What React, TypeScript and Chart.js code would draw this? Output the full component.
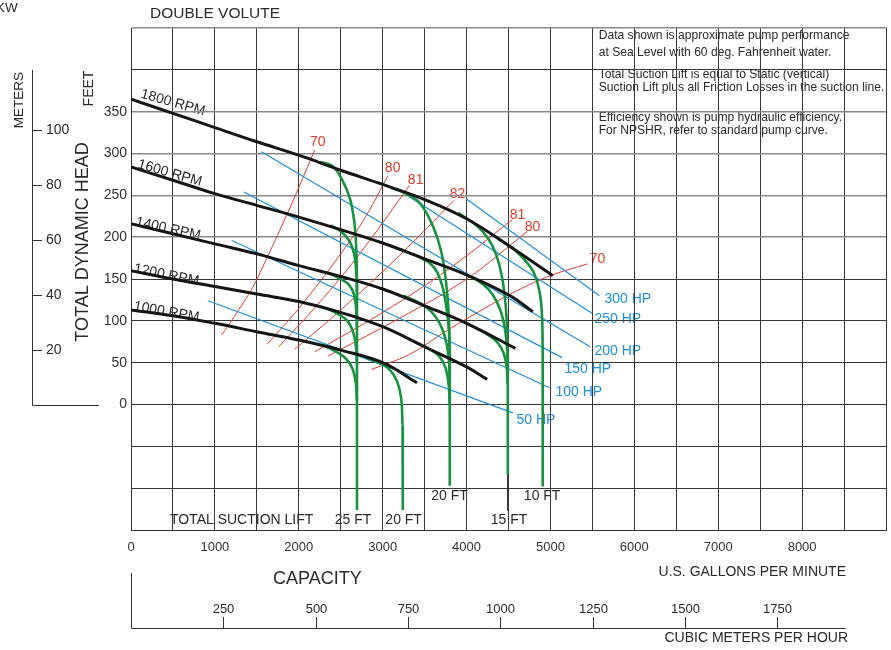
import React, { useEffect, useRef } from 'react';
import { Chart, registerables } from 'chart.js';

Chart.register(...registerables);

type Pt = [number, number];

// ---------- axes ----------
const GPM_TICK_LABELS = [0, 1000, 2000, 3000, 4000, 5000, 6000, 7000, 8000];
const FEET_TICK_LABELS = [0, 50, 100, 150, 200, 250, 300, 350];
const METER_TICK_LABELS = [20, 40, 60, 80, 100];
const M3H_TICK_LABELS = [250, 500, 750, 1000, 1250, 1500, 1750];
const M3H_AXIS_END = 1935;
const METER_AXIS_TOP_FT = 400;
const FT_PER_M = 3.28084;
const GPM_PER_M3H = 4.402868;

// ---------- head curves (GPM, feet) ----------
const HEAD_1800: Pt[] = [[0, 365], [500, 348], [1000, 331], [1500, 314], [2000, 298], [2500, 280], [3000, 263], [3500, 245], [4000, 222], [4500, 190], [5028, 154]];
const HEAD_1600: Pt[] = [[0, 284], [500, 268], [1000, 252], [1500, 238], [2000, 224], [2500, 209], [3000, 193], [3500, 174], [4000, 155], [4500, 131], [4790, 111]];
const HEAD_1400: Pt[] = [[0, 216], [500, 204], [1000, 192], [1500, 180], [2000, 166], [2500, 153], [3000, 138], [3500, 118], [4000, 97], [4583, 67]];
const HEAD_1200: Pt[] = [[0, 160], [500, 150], [1000, 141], [1500, 132], [2000, 123], [2500, 110], [3000, 93], [3500, 69], [4000, 45], [4246, 30]];
const HEAD_1000: Pt[] = [[0, 113], [500, 106], [1000, 97], [1500, 87], [2000, 77], [2500, 65], [3000, 50], [3409, 26]];

// ---------- suction lift curves (GPM, feet) ----------
const LIFT25_1800: Pt[] = [[2250, 290], [2400, 285], [2520, 268], [2610, 246], [2662, 218], [2686, 185], [2693, 150]];
const LIFT25_1600: Pt[] = [[2380, 214], [2500, 207], [2600, 196], [2660, 180], [2686, 158], [2693, 135]];
const LIFT25_1400: Pt[] = [[2380, 156], [2500, 150], [2600, 143], [2660, 131], [2686, 112], [2693, 92]];
const LIFT25_1200: Pt[] = [[2350, 114], [2470, 108], [2580, 100], [2650, 86], [2683, 68], [2693, 48]];
const LIFT25_1000: Pt[] = [[2330, 69], [2450, 63], [2560, 55], [2640, 43], [2680, 26], [2693, 5]];
const LIFT25_DROP: Pt[] = [[2693, 150], [2694, -126]];

const LIFT20A_1000: Pt[] = [[2800, 56], [2950, 50], [3080, 42], [3170, 28], [3220, 8], [3237, -25]];
const LIFT20A_DROP: Pt[] = [[3237, -25], [3240, -126]];

const LIFT20B_1800: Pt[] = [[3100, 259], [3300, 251], [3450, 240], [3600, 213], [3700, 182], [3760, 142], [3790, 102], [3799, 60]];
const LIFT20B_1600: Pt[] = [[3200, 186], [3440, 176], [3560, 169], [3650, 158], [3720, 138], [3765, 112], [3792, 85], [3799, 55]];
const LIFT20B_1400: Pt[] = [[3250, 130], [3450, 121], [3580, 111], [3680, 97], [3745, 80], [3785, 58], [3799, 30]];
const LIFT20B_1200: Pt[] = [[3400, 74], [3560, 66], [3670, 58], [3745, 45], [3785, 25], [3799, 0]];
const LIFT20B_DROP: Pt[] = [[3799, 60], [3800, -97]];

const LIFT15_1800: Pt[] = [[3900, 229], [4120, 214], [4260, 198], [4350, 180], [4420, 154], [4465, 120], [4485, 85], [4491, 50]];
const LIFT15_1600: Pt[] = [[3950, 157], [4120, 149], [4260, 138], [4360, 123], [4430, 104], [4472, 80], [4489, 55], [4491, 30]];
const LIFT15_1400: Pt[] = [[4100, 92], [4260, 83], [4370, 74], [4440, 62], [4478, 45], [4490, 25]];
const LIFT15_DROP: Pt[] = [[4491, 50], [4492, -84]];
const LIFT15_LEADER: Pt[] = [[4492, -84], [4492, -127]];

const LIFT10_1800: Pt[] = [[4380, 198], [4560, 186], [4700, 172], [4800, 158], [4870, 135], [4900, 105], [4907, 70]];
const LIFT10_DROP: Pt[] = [[4907, 70], [4908, -98]];

// ---------- horsepower lines ----------
const HP300: Pt[] = [[3996, 246], [5583, 130]];
const HP250: Pt[] = [[3321, 248], [5496, 109]];
const HP200: Pt[] = [[1556, 302], [5473, 69]];
const HP150: Pt[] = [[1345, 254], [5139, 56]];
const HP100: Pt[] = [[1202, 196], [4988, 20]];
const HP50: Pt[] = [[917, 124], [4551, -10]];

// ---------- efficiency curves ----------
const EFF70_L: Pt[] = [[1080, 83], [1250, 108], [1450, 140], [1620, 175], [1790, 212], [1960, 250], [2100, 283], [2190, 304]];
const EFF80_L: Pt[] = [[1623, 72], [2000, 115], [2500, 180], [2800, 225], [3060, 273]];
const EFF81_L: Pt[] = [[1762, 69], [2300, 128], [2800, 190], [3321, 262]];
const EFF82: Pt[] = [[1952, 66], [2500, 113], [3200, 178], [3850, 244]];
const EFF81_R: Pt[] = [[2190, 63], [3000, 110], [3800, 163], [4548, 221]];
const EFF80_R: Pt[] = [[2349, 58], [3200, 103], [4000, 150], [4726, 207]];
const EFF70_R: Pt[] = [[2869, 42], [3320, 60], [3760, 88], [4200, 114], [4600, 136], [5000, 154], [5440, 168]];

// ---------- labels ----------
const RPM_LABELS = ['1800 RPM', '1600 RPM', '1400 RPM', '1200 RPM', '1000 RPM'];
const RPM_LABEL_AT: Pt[] = [[107, 367], [71, 283], [48, 214], [27, 158], [27, 113]];
const RPM_LABEL_ANGLE = [15.7, 16, 12.4, 11.3, 10];
const EFF_LABELS = ['70', '80', '81', '82', '81', '80', '70'];
const EFF_LABEL_AT: Pt[] = [[2226, 313], [3119, 282], [3393, 268], [3893, 252], [4607, 226], [4786, 212], [5560, 174]];
const HP_LABELS = ['300 HP', '250 HP', '200 HP', '150 HP', '100 HP', '50 HP'];
const HP_LABEL_AT: Pt[] = [[5643, 126], [5524, 102], [5524, 64], [5167, 42], [5060, 15], [4595, -19]];
const SUCTION_LABELS = ['TOTAL SUCTION LIFT', '25 FT', '20 FT', '20 FT', '15 FT', '10 FT'];
const SUCTION_LABEL_AT: Pt[] = [[464, -138], [2646, -138], [3250, -138], [3798, -110], [4506, -138], [4901, -110]];
const NOTES = [
  'Data shown is approximate pump performance',
  'at Sea Level with 60 deg. Fahrenheit water.',
  'Total Suction Lift is equal to Static (vertical)',
  'Suction Lift plus all Friction Losses in the suction line.',
  'Efficiency shown is pump hydraulic efficiency.',
  'For NPSHR, refer to standard pump curve.',
];
const NOTE_AT: Pt[] = [[5575, 441], [5575, 421], [5575, 394], [5575, 379], [5575, 343], [5575, 327]];

const FAMILY = '"Liberation Sans", Arial, Helvetica, sans-serif';
const f = (size: number) => `${size}px ${FAMILY}`;

const BLACK = '#151515';
const GREEN = '#17923f';
const BLUE = '#1d8fe0';
const RED = '#e63a2b';
const TEXT = '#2a2a2a';

function ds(data: Pt[], color: string, width: number, tension: number) {
  return {
    data: data.map(([x, y]) => ({ x, y })),
    borderColor: color,
    borderWidth: width,
    tension,
    pointRadius: 0,
    fill: false,
    borderCapStyle: 'butt',
  };
}

const textPlugin = {
  id: 'pumpText',
  beforeDraw(chart: any) {
    const { ctx } = chart;
    const x = chart.scales.x;
    const y = chart.scales.y;
    const px = (p: Pt) => [x.getPixelForValue(p[0]), y.getPixelForValue(p[1])];
    ctx.save();
    ctx.fillStyle = '#ffffff';
    ctx.fillRect(0, 0, chart.width, chart.height);

    // notes
    ctx.fillStyle = TEXT;
    ctx.font = f(12.1);
    ctx.textAlign = 'left';
    ctx.textBaseline = 'middle';
    NOTES.forEach((t, i) => {
      const [a, b] = px(NOTE_AT[i]);
      ctx.fillText(t, a, b);
    });

    // suction lift labels
    ctx.font = f(14);
    SUCTION_LABELS.forEach((t, i) => {
      const [a, b] = px(SUCTION_LABEL_AT[i]);
      ctx.textAlign = i === 0 ? 'left' : 'center';
      ctx.fillText(t, a, b);
    });

    // RPM labels
    ctx.textAlign = 'left';
    ctx.textBaseline = 'alphabetic';
    ctx.font = f(14);
    RPM_LABELS.forEach((t, i) => {
      const [a, b] = px(RPM_LABEL_AT[i]);
      ctx.save();
      ctx.translate(a, b);
      ctx.rotate((RPM_LABEL_ANGLE[i] * Math.PI) / 180);
      ctx.fillText(t, 0, 0);
      ctx.restore();
    });

    // efficiency labels
    ctx.fillStyle = RED;
    ctx.textAlign = 'center';
    ctx.textBaseline = 'middle';
    ctx.font = f(14);
    EFF_LABELS.forEach((t, i) => {
      const [a, b] = px(EFF_LABEL_AT[i]);
      ctx.fillText(t, a, b);
    });

    // HP labels
    ctx.fillStyle = BLUE;
    ctx.textAlign = 'left';
    HP_LABELS.forEach((t, i) => {
      const [a, b] = px(HP_LABEL_AT[i]);
      ctx.fillText(t, a, b);
    });
    ctx.restore();
  },
  afterDraw(chart: any) {
    const { ctx } = chart;
    const x = chart.scales.x;
    const y = chart.scales.y;
    ctx.save();
    ctx.fillStyle = TEXT;
    ctx.strokeStyle = '#333';
    ctx.lineWidth = 1;

    // titles
    ctx.textBaseline = 'middle';
    ctx.textAlign = 'left';
    ctx.font = f(13.5);
    ctx.fillText('KW', -4, 8);
    ctx.font = f(15.5);
    ctx.fillText('DOUBLE VOLUTE', 150, 14);

    const vText = (t: string, cx: number, cy: number, size: number) => {
      ctx.save();
      ctx.translate(cx, cy);
      ctx.rotate(-Math.PI / 2);
      ctx.font = f(size);
      ctx.textAlign = 'center';
      ctx.textBaseline = 'middle';
      ctx.fillText(t, 0, 0);
      ctx.restore();
    };
    vText('METERS', 19, 100, 13.5);
    vText('FEET', 89.5, 88.5, 14);
    vText('TOTAL DYNAMIC HEAD', 83, 242, 18);

    // meters axis
    const y0 = Math.round(y.getPixelForValue(0)) + 0.5;
    const yTop = y.getPixelForValue(METER_AXIS_TOP_FT);
    ctx.beginPath();
    ctx.moveTo(32.5, yTop);
    ctx.lineTo(32.5, y0);
    ctx.lineTo(99, y0);
    ctx.stroke();
    ctx.font = f(14);
    ctx.textAlign = 'left';
    METER_TICK_LABELS.forEach((m) => {
      const py = Math.round(y.getPixelForValue(m * FT_PER_M)) + 0.5;
      ctx.beginPath();
      ctx.moveTo(32.5, py);
      ctx.lineTo(42, py);
      ctx.stroke();
      ctx.fillText(String(m), 46, py);
    });

    // capacity texts
    ctx.font = f(18);
    ctx.textAlign = 'left';
    ctx.fillText('CAPACITY', 273, 579);
    ctx.font = f(14);
    ctx.textAlign = 'right';
    ctx.fillText('U.S. GALLONS PER MINUTE', 846, 572);
    ctx.fillText('CUBIC METERS PER HOUR', 848, 638);

    // cubic meters per hour axis
    const x0 = Math.round(x.getPixelForValue(0)) + 0.5;
    const xEnd = x.getPixelForValue(M3H_AXIS_END * GPM_PER_M3H);
    const base = 628.5;
    ctx.beginPath();
    ctx.moveTo(x0, 573);
    ctx.lineTo(x0, base);
    ctx.lineTo(xEnd, base);
    ctx.stroke();
    ctx.font = f(13);
    ctx.textAlign = 'center';
    M3H_TICK_LABELS.forEach((m) => {
      const tx = Math.round(x.getPixelForValue(m * GPM_PER_M3H)) + 0.5;
      ctx.beginPath();
      ctx.moveTo(tx, 617);
      ctx.lineTo(tx, base);
      ctx.stroke();
      ctx.fillText(String(m), tx, 609);
    });
    ctx.restore();
  },
};

export default function App() {
  const ref = useRef<HTMLCanvasElement | null>(null);

  useEffect(() => {
    if (!ref.current) return;
    const datasets: any[] = [
      ...[HEAD_1800, HEAD_1600, HEAD_1400, HEAD_1200, HEAD_1000].map((d) => ds(d, BLACK, 3, 0.4)),
      ds(LIFT15_LEADER, '#333', 1, 0),
      ...[
        LIFT25_1800, LIFT25_1600, LIFT25_1400, LIFT25_1200, LIFT25_1000,
        LIFT20A_1000,
        LIFT20B_1800, LIFT20B_1600, LIFT20B_1400, LIFT20B_1200,
        LIFT15_1800, LIFT15_1600, LIFT15_1400,
        LIFT10_1800,
      ].map((d) => ds(d, GREEN, 2.6, 0.4)),
      ...[LIFT25_DROP, LIFT20A_DROP, LIFT20B_DROP, LIFT15_DROP, LIFT10_DROP].map((d) => ds(d, GREEN, 2.6, 0)),
      ...[HP300, HP250, HP200, HP150, HP100, HP50].map((d) => ds(d, BLUE, 1.2, 0)),
      ...[EFF70_L, EFF80_L, EFF81_L, EFF82, EFF81_R, EFF80_R, EFF70_R].map((d) => ds(d, RED, 1, 0.4)),
    ];

    const isGray = (v: number) => (v >= 200 && v <= 350) || v === 450;

    const chart = new Chart(ref.current, {
      type: 'line',
      data: { datasets },
      options: {
        responsive: false,
        animation: false,
        events: [],
        layout: { padding: { left: 0, right: 5, top: 28, bottom: 0 } },
        plugins: { legend: { display: false }, tooltip: { enabled: false }, title: { display: false } },
        elements: { point: { radius: 0 } },
        scales: {
          x: {
            type: 'linear',
            position: 'bottom',
            min: 0,
            max: 9000,
            afterFit: (s: any) => { s.height = 120; },
            ticks: {
              stepSize: 500,
              maxTicksLimit: 100,
              autoSkip: false,
              maxRotation: 0,
              padding: 4,
              color: '#333',
              font: { family: FAMILY, size: 13, lineHeight: 2.0 },
              callback: (v: any) => (GPM_TICK_LABELS.includes(Number(v)) ? String(v) : ''),
            },
            grid: { color: '#383838', lineWidth: 1, drawTicks: false },
            border: { color: '#333', width: 1 },
          },
          y: {
            type: 'linear',
            position: 'left',
            min: -150,
            max: 450,
            afterFit: (s: any) => { s.width = 131; },
            ticks: {
              stepSize: 50,
              maxTicksLimit: 100,
              autoSkip: false,
              padding: 4,
              color: '#333',
              font: { family: FAMILY, size: 14 },
              callback: (v: any) => (FEET_TICK_LABELS.includes(Number(v)) ? String(v) : ''),
            },
            grid: {
              drawTicks: false,
              color: (c: any) => (isGray(c.tick?.value) ? '#8a8a8a' : '#383838'),
              lineWidth: (c: any) => (isGray(c.tick?.value) ? 1.6 : 1),
            },
            border: { color: '#333', width: 1 },
          },
        },
      } as any,
      plugins: [textPlugin as any],
    });
    return () => chart.destroy();
  }, []);

  return (
    <div style={{ position: 'absolute', left: 0, top: 0, width: 891, height: 650, background: '#fff' }}>
      <canvas ref={ref} width={891} height={650} style={{ display: 'block', width: 891, height: 650 }} />
    </div>
  );
}
